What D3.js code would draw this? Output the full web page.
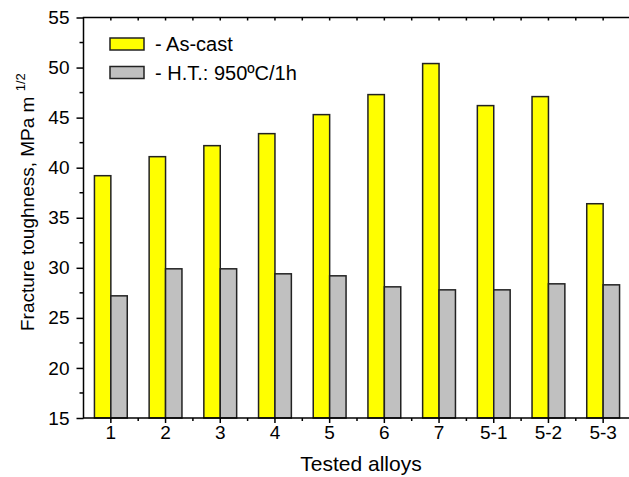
<!DOCTYPE html>
<html>
<head>
<meta charset="utf-8">
<script src="https://cdn.jsdelivr.net/npm/d3@7"></script>
<style>
  body { margin: 0; background: #fff; }
  text { font-family: Arial, "Liberation Sans", sans-serif; fill: #000; }
</style>
</head>
<body>
<div id="chart"></div>
<script>
// data
const alloys = ["1", "2", "3", "4", "5", "6", "7", "5-1", "5-2", "5-3"];
const asCast = [39.2, 41.1, 42.2, 43.4, 45.3, 47.3, 50.4, 46.2, 47.1, 36.4];
const heatTreated = [27.2, 29.9, 29.9, 29.4, 29.2, 28.1, 27.8, 27.8, 28.4, 28.3];
const yTicks = [15, 20, 25, 30, 35, 40, 45, 50, 55];
const seriesNames = ["- As-cast", "- H.T.: 950\u00baC/1h"];
const seriesColors = ["#ffff00", "#c0c0c0"];

(function () {
    const W = 629, H = 477;
    const left = 83.5, right = 630.5, top = 17.5, bottom = 418;

    const svg = d3.select("#chart").append("svg")
        .attr("width", W)
        .attr("height", H);

    const x = d3.scaleBand().domain(alloys).range([left, right]).padding(0);
    const y = d3.scaleLinear().domain([15, 55]).range([bottom, top]);
    const barW = x.bandwidth() * 0.3;

    // bars
    const rows = alloys.map((a, i) => ({ alloy: a, vals: [asCast[i], heatTreated[i]] }));
    const g = svg.append("g");
    rows.forEach(r => {
        r.vals.forEach((v, k) => {
            const cx = x(r.alloy) + x.bandwidth() / 2;
            g.append("rect")
                .attr("x", k === 0 ? cx - barW : cx)
                .attr("y", y(v))
                .attr("width", barW)
                .attr("height", y(15) - y(v))
                .attr("fill", seriesColors[k])
                .attr("stroke", "#222")
                .attr("stroke-width", 1.5);
        });
    });

    // left axis
    const yAxis = svg.append("g")
        .attr("transform", `translate(${left},0)`)
        .call(d3.axisLeft(y).tickValues(yTicks).tickSize(7).tickPadding(7));
    yAxis.selectAll("text").style("font-size", "19px").attr("fill", "#000");
    yAxis.select(".domain").remove();
    yAxis.selectAll("line").attr("stroke-width", 1.5);
    const minorY = d3.range(17.5, 55, 5);
    svg.append("g").selectAll("line").data(minorY).join("line")
        .attr("x1", left - 4).attr("x2", left)
        .attr("y1", d => y(d)).attr("y2", d => y(d))
        .attr("stroke", "#000").attr("stroke-width", 1.5);

    // bottom axis
    const xAxis = svg.append("g")
        .attr("transform", `translate(0,${bottom})`)
        .call(d3.axisBottom(x).tickSize(5).tickPadding(3));
    xAxis.selectAll("text").style("font-size", "19px").attr("fill", "#000");
    xAxis.selectAll("line").attr("stroke-width", 1.5);
    xAxis.select(".domain").remove();
    const bounds = alloys.slice(1).map(a => x(a));
    svg.append("g").selectAll("line").data(bounds).join("line")
        .attr("x1", d => d).attr("x2", d => d)
        .attr("y1", bottom).attr("y2", bottom + 3)
        .attr("stroke", "#000").attr("stroke-width", 1.5);

    // top axis ticks (inward)
    const topTicks = alloys.map(a => x(a) + x.bandwidth() / 2).concat(bounds);
    svg.append("g").selectAll("line").data(topTicks).join("line")
        .attr("x1", d => d).attr("x2", d => d)
        .attr("y1", top).attr("y2", top + 3)
        .attr("stroke", "#000").attr("stroke-width", 1.5);

    // frame
    svg.append("path")
        .attr("d", `M${right},${top}H${left}V${bottom}H${right}`)
        .attr("fill", "none")
        .attr("stroke", "#000")
        .attr("stroke-width", 1.5);

    // axis titles
    svg.append("text")
        .attr("x", 361)
        .attr("y", 471)
        .attr("text-anchor", "middle")
        .style("font-size", "21px")
        .text("Tested alloys");

    const yt = svg.append("text")
        .attr("transform", "translate(34,331) rotate(-90)")
        .attr("text-anchor", "start")
        .style("font-size", "19px");
    yt.append("tspan").text("Fracture toughness, MPa m ");
    yt.append("tspan").attr("dy", -9).style("font-size", "13px").text("1/2");

    // legend
    const legendY = [44, 72.5];
    seriesNames.forEach((name, k) => {
        svg.append("rect")
            .attr("x", 110).attr("y", legendY[k] - 6)
            .attr("width", 34).attr("height", 12)
            .attr("fill", seriesColors[k])
            .attr("stroke", "#222").attr("stroke-width", 1.5);
        svg.append("text")
            .attr("x", 155).attr("y", legendY[k] + 7)
            .style("font-size", "20px")
            .text(name);
    });
})();
</script>
</body>
</html>
